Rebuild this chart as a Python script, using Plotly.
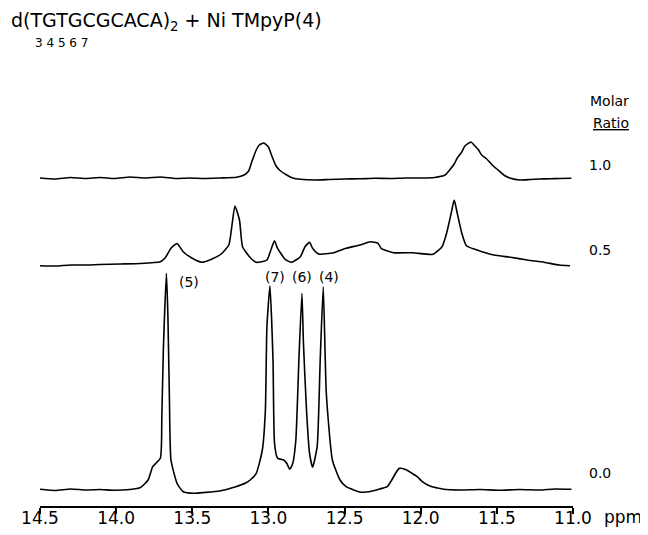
import plotly.graph_objects as go

# ---------------- data ----------------
# chemical shift (ppm) and intensity (arbitrary units, relative to each trace baseline)
ppm_r10 = [14.50, 14.40, 14.30, 14.20, 14.11, 14.01, 13.91, 13.81, 13.71, 13.61, 13.52, 13.42, 13.32,
           13.21, 13.16, 13.13, 13.11, 13.08, 13.06, 13.03, 13.00, 12.98, 12.95, 12.92, 12.88, 12.84,
           12.79, 12.69, 12.60, 12.50, 12.40, 12.30, 12.20, 12.10, 12.00, 11.91, 11.84, 11.81, 11.78,
           11.76, 11.73, 11.71, 11.67, 11.65, 11.62, 11.60, 11.57, 11.53, 11.48, 11.45, 11.41, 11.35,
           11.28, 11.22, 11.15, 11.09, 11.01]
int_r10 = [0, -1, 0.5, -0.5, 0.5, -0.5, 1, 0, 1, -0.5, 0, -0.5, 0,
           0.7, 3, 7, 16, 28, 33, 35, 31, 23, 12, 7, 3, 0,
           -1.3, -2, -1.5, -1, -0.8, -0.3, -0.5, 0, 0, 0.5, 3, 8, 14,
           20, 26, 32, 36, 33, 28, 23, 19.5, 13, 6.3, 2.5, -0.3, -2,
           -1.5, -1, -0.7, -0.5, -0.3]

ppm_r05 = [14.50, 14.40, 14.30, 14.19, 14.11, 13.97, 13.84, 13.71, 13.68, 13.64, 13.60, 13.56, 13.50,
           13.44, 13.37, 13.31, 13.26, 13.24, 13.22, 13.19, 13.17, 13.12, 13.08, 13.01, 12.98, 12.96,
           12.94, 12.89, 12.85, 12.79, 12.76, 12.73, 12.71, 12.67, 12.57, 12.49, 12.40, 12.33, 12.28,
           12.26, 12.18, 12.05, 11.92, 11.86, 11.83, 11.80, 11.78, 11.76, 11.73, 11.70, 11.63, 11.52,
           11.41, 11.30, 11.19, 11.09, 11.02]
int_r05 = [-0.7, -1, 0, 0, 0.5, 1, 1.5, 3.3, 6.7, 16.7, 21.5, 13.3, 6.7,
           2.7, 6, 11, 20, 39, 59, 45, 18.3, 7.5, 2.7, 5, 16.7, 24.3,
           16.7, 5.7, 2.7, 8.3, 18.3, 22.7, 16.7, 11, 12.3, 16.7, 20, 23.3, 21.7,
           16.7, 12.3, 12.3, 10.7, 18.3, 31.7, 51.7, 65, 51.7, 31.7, 19.3, 15, 10,
           7.7, 5, 2.7, 0, -0.7]

ppm_r00 = [14.50, 14.40, 14.30, 14.20, 14.11, 14.01, 13.91, 13.84, 13.79, 13.76, 13.71, 13.70, 13.69,
           13.67, 13.66, 13.65, 13.64, 13.60, 13.56, 13.49, 13.42, 13.32, 13.22, 13.15, 13.12, 13.08,
           13.04, 13.02, 13.01, 12.99, 12.97, 12.96, 12.94, 12.90, 12.88, 12.86, 12.84, 12.82, 12.80,
           12.78, 12.77, 12.75, 12.73, 12.71, 12.68, 12.66, 12.64, 12.62, 12.58, 12.53, 12.49, 12.44,
           12.40, 12.33, 12.27, 12.22, 12.19, 12.16, 12.14, 12.10, 12.06, 12.02, 11.99, 11.94, 11.89,
           11.85, 11.74, 11.61, 11.48, 11.35, 11.22, 11.12, 11.01]
int_r00 = [0.7, -0.5, 1, 0, 0.5, -0.3, 0.5, 2.5, 10, 23.3, 31.7, 73.3, 140,
           216.7, 173.3, 90, 30, 6.7, -1.7, -3.3, -2.5, -1, 3, 7, 10, 16.7,
           40, 80, 163.3, 204, 130, 46.7, 31.7, 30, 26.7, 20.7, 26.7, 50, 130,
           196.7, 146.7, 80, 36.7, 22.7, 43.3, 130, 203.3, 97, 30, 10, 3.3, 0,
           -2, -1.5, 1, 3.3, 10, 18, 21.7, 20.5, 17, 13, 8.3, 4, 2,
           0.7, 0, 0.5, -0.3, 0.5, 0, 1, 0.7]

molar_ratios = ["1.0", "0.5", "0.0"]
peak_labels = ["(5)", "(7)", "(6)", "(4)"]
peak_label_ppm = [13.52, 12.96, 12.78, 12.60]
tick_vals = [14.5, 14.0, 13.5, 13.0, 12.5, 12.0, 11.5, 11.0]
tick_text = ["14.5", "14.0", "13.5", "13.0", "12.5", "12.0", "11.5", "11.0"]

# ---------------- layout (vertical stacking of traces) ----------------
offsets = [328, 241, 16]
FONT = "DejaVu Sans"

fig = go.Figure()
for ppm, inten, off in zip([ppm_r10, ppm_r05, ppm_r00], [int_r10, int_r05, int_r00], offsets):
    fig.add_trace(go.Scatter(
        x=ppm, y=[v + off for v in inten], mode="lines",
        line=dict(color="black", width=1.6, shape="spline", smoothing=0.5),
        showlegend=False, hoverinfo="skip"))


def txt(text, x, y, size, xanchor="left", xref="paper", yref="paper"):
    return dict(xref=xref, yref=yref, x=x, y=y, xanchor=xanchor, yanchor="middle",
                text=text, showarrow=False, font=dict(family=FONT, size=size, color="black"))


ann = [
    txt("d(TGTGCGCACA)<sub>2</sub> + Ni TMpyP(4)", -0.0582, 1.0874, 19),
    txt("3 4 5 6 7", -0.0131, 1.037, 12),
    txt("Molar", 1.0694, 0.908, 14, "center"),
    txt("<u>Ratio</u>", 1.0713, 0.8587, 14, "center"),
    txt("ppm", 1.0544, -0.0247, 17),
]
for lab, yv in zip(molar_ratios, [0.7646, 0.574, 0.074]):
    ann.append(txt(lab, 1.0263, yv, 14))
for lab, xv, yv in zip(peak_labels, peak_label_ppm, [224, 229, 229, 229]):
    ann.append(txt(lab, xv, yv, 14, "center", xref="x", yref="y"))

fig.update_layout(
    template="none",
    width=640, height=527,
    margin=dict(l=32, r=75, t=52, b=29, autoexpand=False),
    paper_bgcolor="white", plot_bgcolor="white",
    annotations=ann,
    xaxis=dict(range=[14.5, 11.0], tickvals=tick_vals, ticktext=tick_text, automargin=False,
               ticks="outside", ticklen=6, tickwidth=1.5, tickcolor="black", ticklabelstandoff=-10,
               showline=True, linecolor="black", linewidth=1.5, showgrid=False, zeroline=False,
               tickfont=dict(family=FONT, size=17, color="black")),
    yaxis=dict(range=[0, 446], visible=False, showgrid=False, zeroline=False, automargin=False),
)

fig.write_html("out.html")
